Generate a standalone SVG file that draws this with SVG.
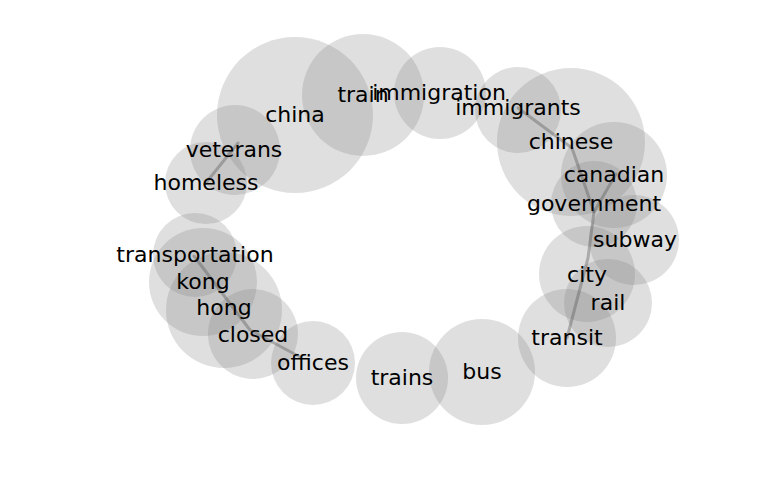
<svg xmlns="http://www.w3.org/2000/svg" width="768" height="500" viewBox="0 0 768 500">
<style>
.b{fill:#808080;fill-opacity:0.25}
.e{fill:none;stroke:#555;stroke-opacity:0.38;stroke-width:3;stroke-linejoin:round;stroke-linecap:round}
text{font-family:"DejaVu Sans","Liberation Sans",sans-serif;font-size:22px;fill:#000;text-anchor:middle}
</style>
<rect width="768" height="500" fill="#fff"/>
<g id="bubbles">
<g id="n-china"><circle class="b" cx="295" cy="115" r="78"/></g>
<g id="n-train"><circle class="b" cx="363" cy="95" r="61"/></g>
<g id="n-immigration"><circle class="b" cx="440" cy="93" r="46"/></g>
<g id="n-immigrants"><circle class="b" cx="518" cy="110" r="43"/></g>
<g id="n-chinese"><circle class="b" cx="571" cy="142" r="74"/></g>
<g id="n-canadian"><circle class="b" cx="614" cy="175" r="53"/></g>
<g id="n-government"><circle class="b" cx="594" cy="204" r="43"/></g>
<g id="n-subway"><circle class="b" cx="634" cy="240" r="45"/></g>
<g id="n-city"><circle class="b" cx="587" cy="274" r="48"/></g>
<g id="n-rail"><circle class="b" cx="608" cy="303" r="44"/></g>
<g id="n-transit"><circle class="b" cx="567" cy="338" r="49"/></g>
<g id="n-bus"><circle class="b" cx="482" cy="372" r="53"/></g>
<g id="n-trains"><circle class="b" cx="402" cy="378" r="46"/></g>
<g id="n-offices"><circle class="b" cx="313" cy="363" r="42"/></g>
<g id="n-closed"><circle class="b" cx="253" cy="334" r="45"/></g>
<g id="n-hong"><circle class="b" cx="224" cy="310" r="58"/></g>
<g id="n-kong"><circle class="b" cx="203" cy="282" r="54"/></g>
<g id="n-transportation"><circle class="b" cx="195" cy="255" r="42"/></g>
<g id="n-homeless"><circle class="b" cx="206" cy="183" r="41"/></g>
<g id="n-veterans"><circle class="b" cx="235" cy="150" r="45"/></g>
</g>
<g id="connectors">
<polyline class="e" points="238,143 205,184"/>
<polyline class="e" points="194,256 250,330 300,357"/>
<polyline class="e" points="518,108 572,148 594,212 588,258 567,338"/>
<polyline class="e" points="616,174 594,212"/>
</g>
<g id="labels">
<text x="295" y="122">china</text>
<text x="363" y="102">train</text>
<text x="439" y="100">immigration</text>
<text x="518" y="115">immigrants</text>
<text x="571" y="149">chinese</text>
<text x="614" y="182">canadian</text>
<text x="594" y="211">government</text>
<text x="635" y="247">subway</text>
<text x="587" y="282">city</text>
<text x="608" y="310">rail</text>
<text x="567" y="345">transit</text>
<text x="482" y="379">bus</text>
<text x="402" y="385">trains</text>
<text x="313" y="370">offices</text>
<text x="253" y="342">closed</text>
<text x="224" y="315">hong</text>
<text x="203" y="289">kong</text>
<text x="195" y="262">transportation</text>
<text x="206" y="190">homeless</text>
<text x="234" y="157">veterans</text>
</g>
</svg>
